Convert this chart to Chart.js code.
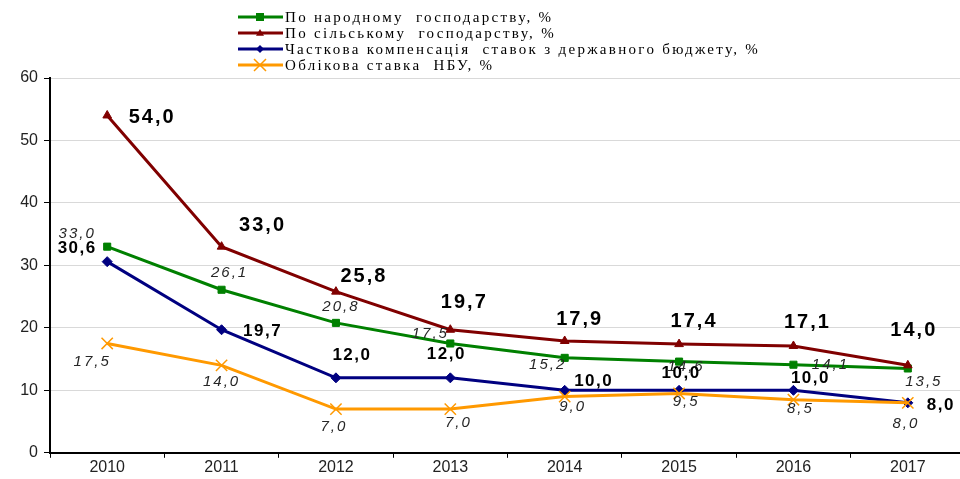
<!DOCTYPE html>
<html>
<head>
<meta charset="utf-8">
<script src="https://cdn.jsdelivr.net/npm/chart.js@4"></script>
<style>
  html, body { margin: 0; padding: 0; background: #fff; overflow: hidden; }
  #wrap { width: 965px; height: 479px; }
</style>
</head>
<body>
<div id="wrap"><canvas id="chart"></canvas></div>
<script>
const years = ["2010", "2011", "2012", "2013", "2014", "2015", "2016", "2017"];
const nationalEconomy = [33.0, 26.1, 20.8, 17.5, 15.2, 14.6, 14.1, 13.5];
const agriculture = [54.0, 33.0, 25.8, 19.7, 17.9, 17.4, 17.1, 14.0];
const compensation = [30.6, 19.7, 12.0, 12.0, 10.0, 10.0, 10.0, 8.0];
const nbuRate = [17.5, 14.0, 7.0, 7.0, 9.0, 9.5, 8.5, 8.0];
const yTicks = [0, 10, 20, 30, 40, 50, 60];

const seriesNames = [
  "По народному  господарству, %",
  "По сільському  господарству, %",
  "Часткова компенсація  ставок з державного бюджету, %",
  "Облікова ставка  НБУ, %"
];

// label offsets from the point (dx, dy) per series
const labelOffsets = [
  [[-30, -13], [8, -17], [5, -16], [-20, -10], [-17, 7], [7, 5], [37, 0], [16, 13]],
  [[45, 2], [41, -21], [28, -15], [14, -27], [15, -22], [15, -23], [14, -23], [6, -35]],
  [[-30, -13], [41, 2], [16, -23], [-4, -24], [29, -9], [2, -17], [17, -12], [33, 2]],
  [[-15, 18], [0, 16], [-2, 18], [8, 14], [8, 10], [7, 8], [7, 9], [-2, 21]]
];
const labelFonts = [
  "italic 15px 'Liberation Sans'",
  "bold 20px 'Liberation Sans'",
  "bold 17px 'Liberation Sans'",
  "italic 15px 'Liberation Sans'"
];
const labelSpacing = ["2px", "2px", "1.5px", "2px"];

const colors = ["#008000", "#800000", "#000080", "#FF9900"];
const markers = ["rect", "triangle", "rectRot", "crossRot"];

function drawMarker(ctx, style, x, y, r, color) {
  ctx.save();
  ctx.fillStyle = color;
  ctx.strokeStyle = color;
  ctx.lineWidth = 1.5;
  ctx.beginPath();
  if (style === "rect") {
    ctx.rect(x - r, y - r, 2 * r, 2 * r);
    ctx.fill();
  } else if (style === "triangle") {
    ctx.moveTo(x, y - r);
    ctx.lineTo(x + r, y + r * 0.7);
    ctx.lineTo(x - r, y + r * 0.7);
    ctx.closePath();
    ctx.fill();
  } else if (style === "rectRot") {
    ctx.moveTo(x, y - r);
    ctx.lineTo(x + r, y);
    ctx.lineTo(x, y + r);
    ctx.lineTo(x - r, y);
    ctx.closePath();
    ctx.fill();
  } else {
    ctx.moveTo(x - r, y - r);
    ctx.lineTo(x + r, y + r);
    ctx.moveTo(x + r, y - r);
    ctx.lineTo(x - r, y + r);
    ctx.stroke();
  }
  ctx.restore();
}

const legendPlugin = {
  id: "lineLegend",
  afterDraw(chart) {
    const ctx = chart.ctx;
    ctx.save();
    ctx.font = "15px 'Liberation Serif'";
    ctx.letterSpacing = "2.3px";
    ctx.textBaseline = "middle";
    ctx.fillStyle = "#000";
    seriesNames.forEach((name, i) => {
      const y = 17 + i * 16;
      ctx.strokeStyle = colors[i];
      ctx.lineWidth = 3;
      ctx.beginPath();
      ctx.moveTo(238, y);
      ctx.lineTo(283, y);
      ctx.stroke();
      drawMarker(ctx, markers[i], 260, y, i === 3 ? 6 : 4, colors[i]);
      ctx.fillText(name, 285, y + 1);
    });
    ctx.restore();
  }
};

const labelPlugin = {
  id: "pointLabels",
  afterDatasetsDraw(chart) {
    const ctx = chart.ctx;
    ctx.save();
    ctx.textAlign = "center";
    ctx.textBaseline = "middle";
    chart.data.datasets.forEach((ds, di) => {
      const meta = chart.getDatasetMeta(di);
      ctx.font = labelFonts[di];
      ctx.letterSpacing = labelSpacing[di];
      ctx.fillStyle = di === 0 || di === 3 ? "#262626" : "#000";
      meta.data.forEach((pt, i) => {
        const off = labelOffsets[di][i];
        const txt = ds.data[i].toFixed(1).replace(".", ",");
        ctx.fillText(txt, pt.x + off[0], pt.y + off[1]);
      });
    });
    ctx.restore();
  }
};

const datasets = [nationalEconomy, agriculture, compensation, nbuRate].map((vals, i) => ({
  label: seriesNames[i],
  data: vals,
  borderColor: colors[i],
  backgroundColor: colors[i],
  borderWidth: 3,
  pointStyle: markers[i],
  pointRadius: i === 3 ? 8 : 5,
  pointBorderWidth: i === 3 ? 1.5 : 1,
  pointBackgroundColor: colors[i],
  pointBorderColor: colors[i],
  tension: 0,
  order: [2, 1, 3, 0][i]
}));

new Chart(document.getElementById("chart"), {
  type: "line",
  data: { labels: years, datasets: datasets },
  options: {
    responsive: true,
    maintainAspectRatio: false,
    animation: false,
    layout: { autoPadding: false, padding: { top: 78, right: 0, left: 0, bottom: 2 } },
    plugins: {
      legend: { display: false },
      tooltip: { enabled: false }
    },
    scales: {
      x: {
        offset: true,
        afterFit(axis) {
          axis.paddingLeft = 0;
          axis.paddingRight = 0;
        },
        grid: {
          offset: true,
          drawOnChartArea: false,
          drawTicks: true,
          tickLength: 5,
          tickColor: "#000"
        },
        border: { color: "#000", width: 2 },
        ticks: {
          color: "#222",
          font: { family: "'Liberation Sans'", size: 16 },
          padding: 0
        }
      },
      y: {
        min: 0,
        max: 60,
        afterBuildTicks(axis) {
          axis.ticks = yTicks.map(v => ({ value: v }));
        },
        afterFit(axis) {
          axis.width = 50;
        },
        grid: {
          color: "#d9d9d9",
          lineWidth: 1,
          drawTicks: true,
          tickLength: 6,
          tickColor: "#000"
        },
        border: { color: "#000", width: 2 },
        ticks: {
          color: "#222",
          font: { family: "'Liberation Sans'", size: 16 },
          padding: 6
        }
      }
    }
  },
  plugins: [legendPlugin, labelPlugin]
});
</script>
</body>
</html>
